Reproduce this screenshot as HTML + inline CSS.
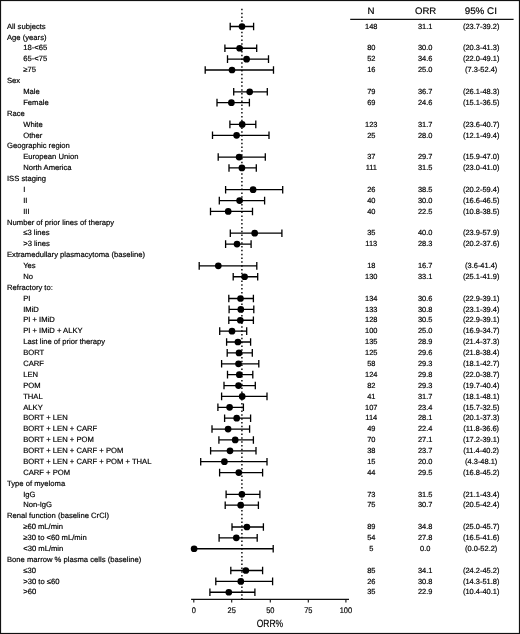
<!DOCTYPE html>
<html><head><meta charset="utf-8"><title>ORR forest plot</title>
<style>html,body{margin:0;padding:0;background:#fff}svg{display:block;filter:blur(0.3px)}text{font-family:"Liberation Sans",sans-serif;fill:#000;stroke:#000;stroke-width:0.18px;text-rendering:geometricPrecision}</style></head>
<body>
<svg width="520" height="634" viewBox="0 0 520 634">
<rect x="0" y="0" width="520" height="634" fill="#fff"/>
<rect x="0.5" y="0.5" width="519" height="633" fill="none" stroke="#111" stroke-width="1.2"/>
<g font-size="9.5" text-anchor="middle" stroke-width="0.15"><text transform="translate(371.1 13.9) scale(1.02 1)">N</text><text transform="translate(425.6 13.9) scale(1.01 1)">ORR</text><text transform="translate(480.8 13.9) scale(1.035 1)">95% CI</text></g>
<line x1="350.2" y1="19.3" x2="513.6" y2="19.3" stroke="#111" stroke-width="1.3"/>
<line x1="241.9" y1="8.8" x2="241.9" y2="599" stroke="#111" stroke-width="1.5" stroke-dasharray="1.5 2.326"/>
<line x1="191.1" y1="599.3" x2="349" y2="599.3" stroke="#111" stroke-width="1.25"/>
<line x1="193.8" y1="599.3" x2="193.8" y2="602.4" stroke="#111" stroke-width="1.1"/>
<text transform="translate(193.8 612.7) scale(0.92 1)" font-size="8.1" text-anchor="middle">0</text>
<line x1="231.7" y1="599.3" x2="231.7" y2="602.4" stroke="#111" stroke-width="1.1"/>
<text transform="translate(231.7 612.7) scale(0.92 1)" font-size="8.1" text-anchor="middle">25</text>
<line x1="270.3" y1="599.3" x2="270.3" y2="602.4" stroke="#111" stroke-width="1.1"/>
<text transform="translate(270.3 612.7) scale(0.92 1)" font-size="8.1" text-anchor="middle">50</text>
<line x1="308.3" y1="599.3" x2="308.3" y2="602.4" stroke="#111" stroke-width="1.1"/>
<text transform="translate(308.3 612.7) scale(0.92 1)" font-size="8.1" text-anchor="middle">75</text>
<line x1="345.9" y1="599.3" x2="345.9" y2="602.4" stroke="#111" stroke-width="1.1"/>
<text transform="translate(345.9 612.7) scale(0.92 1)" font-size="8.1" text-anchor="middle">100</text>
<text transform="translate(269.9 626.9) scale(0.81 1)" font-size="10.5" text-anchor="middle" stroke-width="0.2">ORR%</text>
<text x="7.0" y="28.70" font-size="7.65">All subjects</text>
<g font-size="7.45" text-anchor="middle"><text x="371.3" y="28.70">148</text><text x="425.2" y="28.70">31.1</text><text x="481.2" y="28.70">(23.7-39.2)</text></g>
<path d="M230.2 26.50H253.6M253.6 22.70V30.30M230.2 22.70V30.30" stroke="#000" stroke-width="1.3" fill="none"/>
<circle cx="242.0" cy="26.50" r="3.35" fill="#000"/>
<text x="7.0" y="39.58" font-size="7.65">Age (years)</text>
<text x="23.2" y="50.46" font-size="7.65">18-&lt;65</text>
<g font-size="7.45" text-anchor="middle"><text x="371.3" y="50.46">80</text><text x="425.2" y="50.46">30.0</text><text x="481.2" y="50.46">(20.3-41.3)</text></g>
<path d="M224.9 48.26H256.7M256.7 44.46V52.06M224.9 44.46V52.06" stroke="#000" stroke-width="1.3" fill="none"/>
<circle cx="239.6" cy="48.26" r="3.35" fill="#000"/>
<text x="23.2" y="61.34" font-size="7.65">65-&lt;75</text>
<g font-size="7.45" text-anchor="middle"><text x="371.3" y="61.34">52</text><text x="425.2" y="61.34">34.6</text><text x="481.2" y="61.34">(22.0-49.1)</text></g>
<path d="M227.5 59.14H268.5M268.5 55.34V62.94M227.5 55.34V62.94" stroke="#000" stroke-width="1.3" fill="none"/>
<circle cx="246.6" cy="59.14" r="3.35" fill="#000"/>
<text x="23.2" y="72.22" font-size="7.65">≥75</text>
<g font-size="7.45" text-anchor="middle"><text x="371.3" y="72.22">16</text><text x="425.2" y="72.22">25.0</text><text x="481.2" y="72.22">(7.3-52.4)</text></g>
<path d="M205.2 70.02H273.5M273.5 66.22V73.82M205.2 66.22V73.82" stroke="#000" stroke-width="1.3" fill="none"/>
<circle cx="232.0" cy="70.02" r="3.35" fill="#000"/>
<text x="7.0" y="83.10" font-size="7.65">Sex</text>
<text x="23.2" y="93.98" font-size="7.65">Male</text>
<g font-size="7.45" text-anchor="middle"><text x="371.3" y="93.98">79</text><text x="425.2" y="93.98">36.7</text><text x="481.2" y="93.98">(26.1-48.3)</text></g>
<path d="M233.7 91.78H267.3M267.3 87.98V95.58M233.7 87.98V95.58" stroke="#000" stroke-width="1.3" fill="none"/>
<circle cx="249.7" cy="91.78" r="3.35" fill="#000"/>
<text x="23.2" y="104.86" font-size="7.65">Female</text>
<g font-size="7.45" text-anchor="middle"><text x="371.3" y="104.86">69</text><text x="425.2" y="104.86">24.6</text><text x="481.2" y="104.86">(15.1-36.5)</text></g>
<path d="M217.0 102.66H249.4M249.4 98.86V106.46M217.0 98.86V106.46" stroke="#000" stroke-width="1.3" fill="none"/>
<circle cx="231.4" cy="102.66" r="3.35" fill="#000"/>
<text x="7.0" y="115.74" font-size="7.65">Race</text>
<text x="23.2" y="126.62" font-size="7.65">White</text>
<g font-size="7.45" text-anchor="middle"><text x="371.3" y="126.62">123</text><text x="425.2" y="126.62">31.7</text><text x="481.2" y="126.62">(23.6-40.7)</text></g>
<path d="M229.9 124.42H255.8M255.8 120.62V128.22M229.9 120.62V128.22" stroke="#000" stroke-width="1.3" fill="none"/>
<circle cx="242.2" cy="124.42" r="3.35" fill="#000"/>
<text x="23.2" y="137.50" font-size="7.65">Other</text>
<g font-size="7.45" text-anchor="middle"><text x="371.3" y="137.50">25</text><text x="425.2" y="137.50">28.0</text><text x="481.2" y="137.50">(12.1-49.4)</text></g>
<path d="M212.5 135.30H269.0M269.0 131.50V139.10M212.5 131.50V139.10" stroke="#000" stroke-width="1.3" fill="none"/>
<circle cx="236.6" cy="135.30" r="3.35" fill="#000"/>
<text x="7.0" y="148.38" font-size="7.65">Geographic region</text>
<text x="23.2" y="159.26" font-size="7.65">European Union</text>
<g font-size="7.45" text-anchor="middle"><text x="371.3" y="159.26">37</text><text x="425.2" y="159.26">29.7</text><text x="481.2" y="159.26">(15.9-47.0)</text></g>
<path d="M218.2 157.06H265.3M265.3 153.26V160.86M218.2 153.26V160.86" stroke="#000" stroke-width="1.3" fill="none"/>
<circle cx="239.1" cy="157.06" r="3.35" fill="#000"/>
<text x="23.2" y="170.14" font-size="7.65">North America</text>
<g font-size="7.45" text-anchor="middle"><text x="371.3" y="170.14">111</text><text x="425.2" y="170.14">31.5</text><text x="481.2" y="170.14">(23.0-41.0)</text></g>
<path d="M229.0 167.94H256.3M256.3 164.14V171.74M229.0 164.14V171.74" stroke="#000" stroke-width="1.3" fill="none"/>
<circle cx="241.9" cy="167.94" r="3.35" fill="#000"/>
<text x="7.0" y="181.02" font-size="7.65">ISS staging</text>
<text x="23.2" y="191.90" font-size="7.65">I</text>
<g font-size="7.45" text-anchor="middle"><text x="371.3" y="191.90">26</text><text x="425.2" y="191.90">38.5</text><text x="481.2" y="191.90">(20.2-59.4)</text></g>
<path d="M225.6 189.70H282.7M282.7 185.90V193.50M225.6 185.90V193.50" stroke="#000" stroke-width="1.3" fill="none"/>
<circle cx="253.1" cy="189.70" r="3.35" fill="#000"/>
<text x="23.2" y="202.78" font-size="7.65">II</text>
<g font-size="7.45" text-anchor="middle"><text x="371.3" y="202.78">40</text><text x="425.2" y="202.78">30.0</text><text x="481.2" y="202.78">(16.6-46.5)</text></g>
<path d="M219.3 200.58H264.6M264.6 196.78V204.38M219.3 196.78V204.38" stroke="#000" stroke-width="1.3" fill="none"/>
<circle cx="239.6" cy="200.58" r="3.35" fill="#000"/>
<text x="23.2" y="213.66" font-size="7.65">III</text>
<g font-size="7.45" text-anchor="middle"><text x="371.3" y="213.66">40</text><text x="425.2" y="213.66">22.5</text><text x="481.2" y="213.66">(10.8-38.5)</text></g>
<path d="M210.5 211.46H252.5M252.5 207.66V215.26M210.5 207.66V215.26" stroke="#000" stroke-width="1.3" fill="none"/>
<circle cx="228.2" cy="211.46" r="3.35" fill="#000"/>
<text x="7.0" y="224.54" font-size="7.65">Number of prior lines of therapy</text>
<text x="23.2" y="235.42" font-size="7.65">≤3 lines</text>
<g font-size="7.45" text-anchor="middle"><text x="371.3" y="235.42">35</text><text x="425.2" y="235.42">40.0</text><text x="481.2" y="235.42">(23.9-57.9)</text></g>
<path d="M230.3 233.22H281.9M281.9 229.42V237.02M230.3 229.42V237.02" stroke="#000" stroke-width="1.3" fill="none"/>
<circle cx="254.7" cy="233.22" r="3.35" fill="#000"/>
<text x="23.2" y="246.30" font-size="7.65">&gt;3 lines</text>
<g font-size="7.45" text-anchor="middle"><text x="371.3" y="246.30">113</text><text x="425.2" y="246.30">28.3</text><text x="481.2" y="246.30">(20.2-37.6)</text></g>
<path d="M225.6 244.10H251.1M251.1 240.30V247.90M225.6 240.30V247.90" stroke="#000" stroke-width="1.3" fill="none"/>
<circle cx="237.0" cy="244.10" r="3.35" fill="#000"/>
<text x="7.0" y="257.18" font-size="7.65">Extramedullary plasmacytoma (baseline)</text>
<text x="23.2" y="268.06" font-size="7.65">Yes</text>
<g font-size="7.45" text-anchor="middle"><text x="371.3" y="268.06">18</text><text x="425.2" y="268.06">16.7</text><text x="481.2" y="268.06">(3.6-41.4)</text></g>
<path d="M199.2 265.86H256.8M256.8 262.06V269.66M199.2 262.06V269.66" stroke="#000" stroke-width="1.3" fill="none"/>
<circle cx="218.3" cy="265.86" r="3.35" fill="#000"/>
<text x="23.2" y="278.94" font-size="7.65">No</text>
<g font-size="7.45" text-anchor="middle"><text x="371.3" y="278.94">130</text><text x="425.2" y="278.94">33.1</text><text x="481.2" y="278.94">(25.1-41.9)</text></g>
<path d="M233.2 276.74H257.7M257.7 272.94V280.54M233.2 272.94V280.54" stroke="#000" stroke-width="1.3" fill="none"/>
<circle cx="244.6" cy="276.74" r="3.35" fill="#000"/>
<text x="7.0" y="289.82" font-size="7.65">Refractory to:</text>
<text x="23.2" y="300.70" font-size="7.65">PI</text>
<g font-size="7.45" text-anchor="middle"><text x="371.3" y="300.70">134</text><text x="425.2" y="300.70">30.6</text><text x="481.2" y="300.70">(22.9-39.1)</text></g>
<path d="M228.8 298.50H253.4M253.4 294.70V302.30M228.8 294.70V302.30" stroke="#000" stroke-width="1.3" fill="none"/>
<circle cx="240.5" cy="298.50" r="3.35" fill="#000"/>
<text x="23.2" y="311.58" font-size="7.65">IMiD</text>
<g font-size="7.45" text-anchor="middle"><text x="371.3" y="311.58">133</text><text x="425.2" y="311.58">30.8</text><text x="481.2" y="311.58">(23.1-39.4)</text></g>
<path d="M229.1 309.38H253.8M253.8 305.58V313.18M229.1 305.58V313.18" stroke="#000" stroke-width="1.3" fill="none"/>
<circle cx="240.8" cy="309.38" r="3.35" fill="#000"/>
<text x="23.2" y="322.46" font-size="7.65">PI + IMiD</text>
<g font-size="7.45" text-anchor="middle"><text x="371.3" y="322.46">128</text><text x="425.2" y="322.46">30.5</text><text x="481.2" y="322.46">(22.9-39.1)</text></g>
<path d="M228.8 320.26H253.4M253.4 316.46V324.06M228.8 316.46V324.06" stroke="#000" stroke-width="1.3" fill="none"/>
<circle cx="240.3" cy="320.26" r="3.35" fill="#000"/>
<text x="23.2" y="333.34" font-size="7.65">PI + IMiD + ALKY</text>
<g font-size="7.45" text-anchor="middle"><text x="371.3" y="333.34">100</text><text x="425.2" y="333.34">25.0</text><text x="481.2" y="333.34">(16.9-34.7)</text></g>
<path d="M219.7 331.14H246.7M246.7 327.34V334.94M219.7 327.34V334.94" stroke="#000" stroke-width="1.3" fill="none"/>
<circle cx="232.0" cy="331.14" r="3.35" fill="#000"/>
<text x="23.2" y="344.22" font-size="7.65">Last line of prior therapy</text>
<g font-size="7.45" text-anchor="middle"><text x="371.3" y="344.22">135</text><text x="425.2" y="344.22">28.9</text><text x="481.2" y="344.22">(21.4-37.3)</text></g>
<path d="M226.6 342.02H250.6M250.6 338.22V345.82M226.6 338.22V345.82" stroke="#000" stroke-width="1.3" fill="none"/>
<circle cx="237.9" cy="342.02" r="3.35" fill="#000"/>
<text x="23.2" y="355.10" font-size="7.65">BORT</text>
<g font-size="7.45" text-anchor="middle"><text x="371.3" y="355.10">125</text><text x="425.2" y="355.10">29.6</text><text x="481.2" y="355.10">(21.8-38.4)</text></g>
<path d="M227.2 352.90H252.3M252.3 349.10V356.70M227.2 349.10V356.70" stroke="#000" stroke-width="1.3" fill="none"/>
<circle cx="239.0" cy="352.90" r="3.35" fill="#000"/>
<text x="23.2" y="365.98" font-size="7.65">CARF</text>
<g font-size="7.45" text-anchor="middle"><text x="371.3" y="365.98">58</text><text x="425.2" y="365.98">29.3</text><text x="481.2" y="365.98">(18.1-42.7)</text></g>
<path d="M221.6 363.78H258.8M258.8 359.98V367.58M221.6 359.98V367.58" stroke="#000" stroke-width="1.3" fill="none"/>
<circle cx="238.5" cy="363.78" r="3.35" fill="#000"/>
<text x="23.2" y="376.86" font-size="7.65">LEN</text>
<g font-size="7.45" text-anchor="middle"><text x="371.3" y="376.86">124</text><text x="425.2" y="376.86">29.8</text><text x="481.2" y="376.86">(22.0-38.7)</text></g>
<path d="M227.5 374.66H252.8M252.8 370.86V378.46M227.5 370.86V378.46" stroke="#000" stroke-width="1.3" fill="none"/>
<circle cx="239.3" cy="374.66" r="3.35" fill="#000"/>
<text x="23.2" y="387.74" font-size="7.65">POM</text>
<g font-size="7.45" text-anchor="middle"><text x="371.3" y="387.74">82</text><text x="425.2" y="387.74">29.3</text><text x="481.2" y="387.74">(19.7-40.4)</text></g>
<path d="M224.0 385.54H255.3M255.3 381.74V389.34M224.0 381.74V389.34" stroke="#000" stroke-width="1.3" fill="none"/>
<circle cx="238.5" cy="385.54" r="3.35" fill="#000"/>
<text x="23.2" y="398.62" font-size="7.65">THAL</text>
<g font-size="7.45" text-anchor="middle"><text x="371.3" y="398.62">41</text><text x="425.2" y="398.62">31.7</text><text x="481.2" y="398.62">(18.1-48.1)</text></g>
<path d="M221.6 396.42H267.0M267.0 392.62V400.22M221.6 392.62V400.22" stroke="#000" stroke-width="1.3" fill="none"/>
<circle cx="242.2" cy="396.42" r="3.35" fill="#000"/>
<text x="23.2" y="409.50" font-size="7.65">ALKY</text>
<g font-size="7.45" text-anchor="middle"><text x="371.3" y="409.50">107</text><text x="425.2" y="409.50">23.4</text><text x="481.2" y="409.50">(15.7-32.5)</text></g>
<path d="M217.9 407.30H243.4M243.4 403.50V411.10M217.9 403.50V411.10" stroke="#000" stroke-width="1.3" fill="none"/>
<circle cx="229.6" cy="407.30" r="3.35" fill="#000"/>
<text x="23.2" y="420.38" font-size="7.65">BORT + LEN</text>
<g font-size="7.45" text-anchor="middle"><text x="371.3" y="420.38">114</text><text x="425.2" y="420.38">28.1</text><text x="481.2" y="420.38">(20.1-37.3)</text></g>
<path d="M224.6 418.18H250.6M250.6 414.38V421.98M224.6 414.38V421.98" stroke="#000" stroke-width="1.3" fill="none"/>
<circle cx="236.7" cy="418.18" r="3.35" fill="#000"/>
<text x="23.2" y="431.26" font-size="7.65">BORT + LEN + CARF</text>
<g font-size="7.45" text-anchor="middle"><text x="371.3" y="431.26">49</text><text x="425.2" y="431.26">22.4</text><text x="481.2" y="431.26">(11.8-36.6)</text></g>
<path d="M212.0 429.06H249.6M249.6 425.26V432.86M212.0 425.26V432.86" stroke="#000" stroke-width="1.3" fill="none"/>
<circle cx="228.1" cy="429.06" r="3.35" fill="#000"/>
<text x="23.2" y="442.14" font-size="7.65">BORT + LEN + POM</text>
<g font-size="7.45" text-anchor="middle"><text x="371.3" y="442.14">70</text><text x="425.2" y="442.14">27.1</text><text x="481.2" y="442.14">(17.2-39.1)</text></g>
<path d="M218.9 439.94H253.4M253.4 436.14V443.74M218.9 436.14V443.74" stroke="#000" stroke-width="1.3" fill="none"/>
<circle cx="235.2" cy="439.94" r="3.35" fill="#000"/>
<text x="23.2" y="453.02" font-size="7.65">BORT + LEN + CARF + POM</text>
<g font-size="7.45" text-anchor="middle"><text x="371.3" y="453.02">38</text><text x="425.2" y="453.02">23.7</text><text x="481.2" y="453.02">(11.4-40.2)</text></g>
<path d="M210.6 450.82H256.0M256.0 447.02V454.62M210.6 447.02V454.62" stroke="#000" stroke-width="1.3" fill="none"/>
<circle cx="230.0" cy="450.82" r="3.35" fill="#000"/>
<text x="23.2" y="463.90" font-size="7.65">BORT + LEN + CARF + POM + THAL</text>
<g font-size="7.45" text-anchor="middle"><text x="371.3" y="463.90">15</text><text x="425.2" y="463.90">20.0</text><text x="481.2" y="463.90">(4.3-48.1)</text></g>
<path d="M200.7 461.70H267.0M267.0 457.90V465.50M200.7 457.90V465.50" stroke="#000" stroke-width="1.3" fill="none"/>
<circle cx="224.4" cy="461.70" r="3.35" fill="#000"/>
<text x="23.2" y="474.78" font-size="7.65">CARF + POM</text>
<g font-size="7.45" text-anchor="middle"><text x="371.3" y="474.78">44</text><text x="425.2" y="474.78">29.5</text><text x="481.2" y="474.78">(16.8-45.2)</text></g>
<path d="M219.6 472.58H262.6M262.6 468.78V476.38M219.6 468.78V476.38" stroke="#000" stroke-width="1.3" fill="none"/>
<circle cx="238.8" cy="472.58" r="3.35" fill="#000"/>
<text x="7.0" y="485.66" font-size="7.65">Type of myeloma</text>
<text x="23.2" y="496.54" font-size="7.65">IgG</text>
<g font-size="7.45" text-anchor="middle"><text x="371.3" y="496.54">73</text><text x="425.2" y="496.54">31.5</text><text x="481.2" y="496.54">(21.1-43.4)</text></g>
<path d="M226.1 494.34H259.9M259.9 490.54V498.14M226.1 490.54V498.14" stroke="#000" stroke-width="1.3" fill="none"/>
<circle cx="241.9" cy="494.34" r="3.35" fill="#000"/>
<text x="23.2" y="507.42" font-size="7.65">Non-IgG</text>
<g font-size="7.45" text-anchor="middle"><text x="371.3" y="507.42">75</text><text x="425.2" y="507.42">30.7</text><text x="481.2" y="507.42">(20.5-42.4)</text></g>
<path d="M225.2 505.22H258.4M258.4 501.42V509.02M225.2 501.42V509.02" stroke="#000" stroke-width="1.3" fill="none"/>
<circle cx="240.7" cy="505.22" r="3.35" fill="#000"/>
<text x="7.0" y="518.30" font-size="7.65">Renal function (baseline CrCl)</text>
<text x="23.2" y="529.18" font-size="7.65">≥60 mL/min</text>
<g font-size="7.45" text-anchor="middle"><text x="371.3" y="529.18">89</text><text x="425.2" y="529.18">34.8</text><text x="481.2" y="529.18">(25.0-45.7)</text></g>
<path d="M232.0 526.98H263.4M263.4 523.18V530.78M232.0 523.18V530.78" stroke="#000" stroke-width="1.3" fill="none"/>
<circle cx="246.9" cy="526.98" r="3.35" fill="#000"/>
<text x="23.2" y="540.06" font-size="7.65">≥30 to &lt;60 mL/min</text>
<g font-size="7.45" text-anchor="middle"><text x="371.3" y="540.06">54</text><text x="425.2" y="540.06">27.8</text><text x="481.2" y="540.06">(16.5-41.6)</text></g>
<path d="M219.1 537.86H257.2M257.2 534.06V541.66M219.1 534.06V541.66" stroke="#000" stroke-width="1.3" fill="none"/>
<circle cx="236.3" cy="537.86" r="3.35" fill="#000"/>
<text x="23.2" y="550.94" font-size="7.65">&lt;30 mL/min</text>
<g font-size="7.45" text-anchor="middle"><text x="371.3" y="550.94">5</text><text x="425.2" y="550.94">0.0</text><text x="481.2" y="550.94">(0.0-52.2)</text></g>
<path d="M194.1 548.74H273.2M273.2 544.94V552.54" stroke="#000" stroke-width="1.3" fill="none"/>
<circle cx="194.1" cy="548.74" r="3.35" fill="#000"/>
<text x="7.0" y="561.82" font-size="7.65">Bone marrow % plasma cells (baseline)</text>
<text x="23.2" y="572.70" font-size="7.65">≤30</text>
<g font-size="7.45" text-anchor="middle"><text x="371.3" y="572.70">85</text><text x="425.2" y="572.70">34.1</text><text x="481.2" y="572.70">(24.2-45.2)</text></g>
<path d="M230.8 570.50H262.6M262.6 566.70V574.30M230.8 566.70V574.30" stroke="#000" stroke-width="1.3" fill="none"/>
<circle cx="245.8" cy="570.50" r="3.35" fill="#000"/>
<text x="23.2" y="583.58" font-size="7.65">&gt;30 to ≤60</text>
<g font-size="7.45" text-anchor="middle"><text x="371.3" y="583.58">26</text><text x="425.2" y="583.58">30.8</text><text x="481.2" y="583.58">(14.3-51.8)</text></g>
<path d="M215.8 581.38H272.6M272.6 577.58V585.18M215.8 577.58V585.18" stroke="#000" stroke-width="1.3" fill="none"/>
<circle cx="240.8" cy="581.38" r="3.35" fill="#000"/>
<text x="23.2" y="594.46" font-size="7.65">&gt;60</text>
<g font-size="7.45" text-anchor="middle"><text x="371.3" y="594.46">35</text><text x="425.2" y="594.46">22.9</text><text x="481.2" y="594.46">(10.4-40.1)</text></g>
<path d="M209.9 592.26H254.9M254.9 588.46V596.06M209.9 588.46V596.06" stroke="#000" stroke-width="1.3" fill="none"/>
<circle cx="228.8" cy="592.26" r="3.35" fill="#000"/>
</svg>
</body></html>
